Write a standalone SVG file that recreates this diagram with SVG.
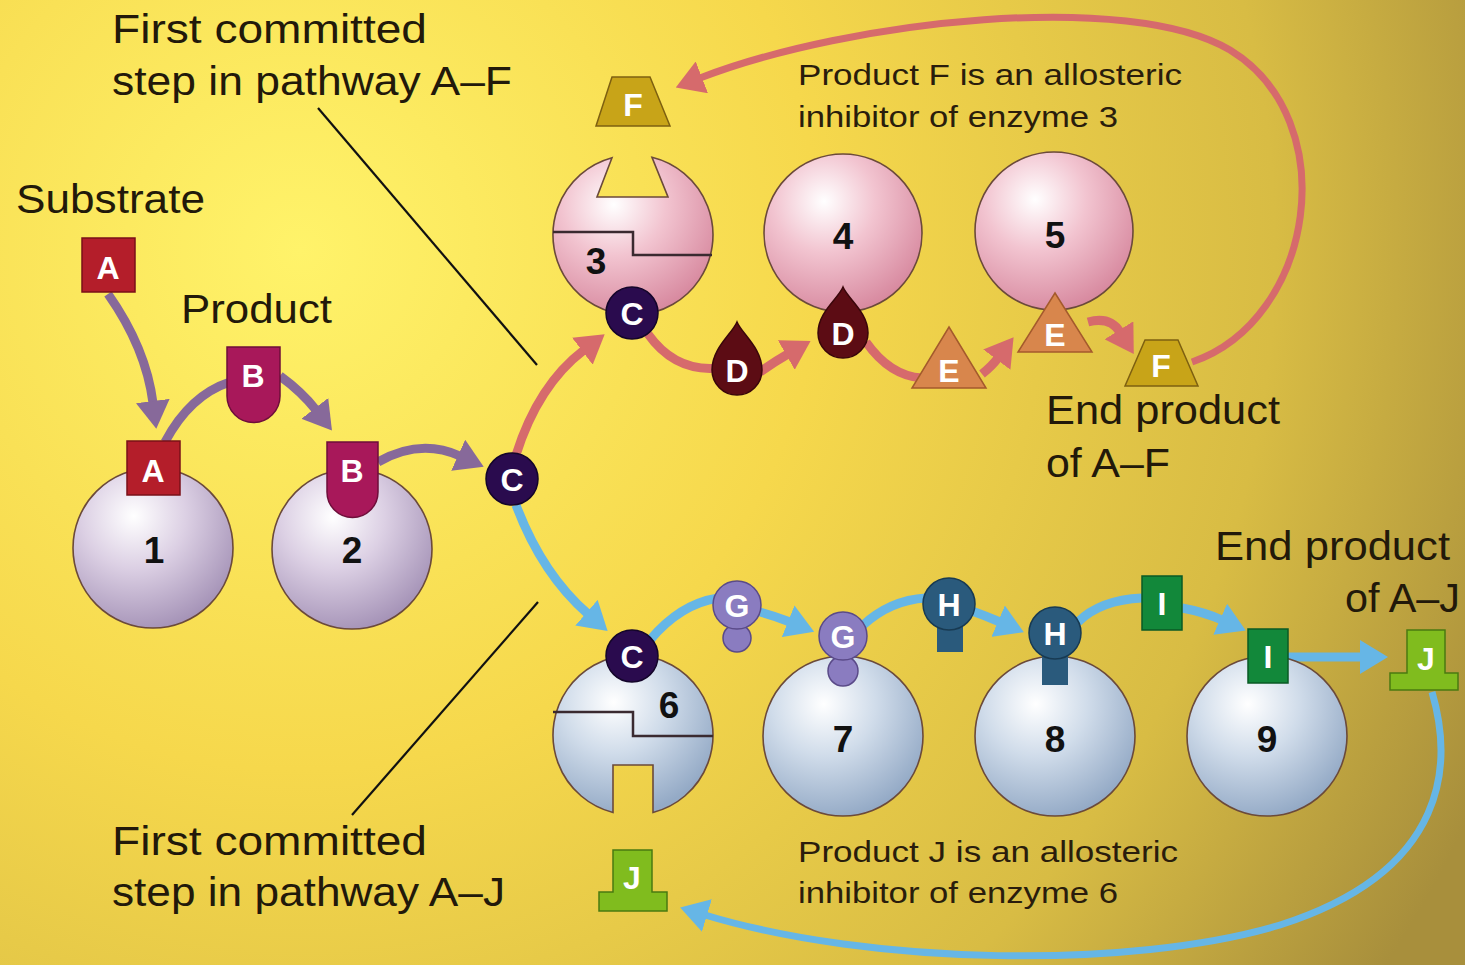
<svg xmlns="http://www.w3.org/2000/svg" width="1465" height="965" viewBox="0 0 1465 965">
  <defs>
    <radialGradient id="bg" gradientUnits="userSpaceOnUse" cx="300" cy="250" r="1300">
      <stop offset="0" stop-color="#fff36a"/>
      <stop offset="0.4" stop-color="#f6d84c"/>
      <stop offset="0.75" stop-color="#d8bc44"/>
      <stop offset="1" stop-color="#a88f3c"/>
    </radialGradient>
    <radialGradient id="lilac" cx="0.38" cy="0.3" r="0.72">
      <stop offset="0" stop-color="#ffffff"/>
      <stop offset="0.45" stop-color="#dcd0e4"/>
      <stop offset="1" stop-color="#a694b8"/>
    </radialGradient>
    <radialGradient id="pink" cx="0.38" cy="0.3" r="0.72">
      <stop offset="0" stop-color="#ffffff"/>
      <stop offset="0.45" stop-color="#f2c4d0"/>
      <stop offset="1" stop-color="#d88aa0"/>
    </radialGradient>
    <radialGradient id="ice" cx="0.38" cy="0.3" r="0.72">
      <stop offset="0" stop-color="#ffffff"/>
      <stop offset="0.45" stop-color="#d0dcea"/>
      <stop offset="1" stop-color="#94aac6"/>
    </radialGradient>
    <marker id="hPurple" viewBox="0 0 28 34" refX="2" refY="17" markerWidth="28" markerHeight="34" markerUnits="userSpaceOnUse" orient="auto">
      <path d="M0,0 L28,17 L0,34 z" fill="#87699a"/>
    </marker>
    <marker id="hSalmon" viewBox="0 0 28 34" refX="2" refY="17" markerWidth="28" markerHeight="34" markerUnits="userSpaceOnUse" orient="auto">
      <path d="M0,0 L28,17 L0,34 z" fill="#d66a6c"/>
    </marker>
    <marker id="hBlue" viewBox="0 0 28 34" refX="2" refY="17" markerWidth="28" markerHeight="34" markerUnits="userSpaceOnUse" orient="auto">
      <path d="M0,0 L28,17 L0,34 z" fill="#66b6e6"/>
    </marker>
  </defs>
  <style>
    .lbl { font-family: "Liberation Sans", Arial, sans-serif; font-size: 40px; fill: #22190a; }
    .note { font-family: "Liberation Sans", Arial, sans-serif; font-size: 29px; fill: #2a1d0c; }
    .num { font-family: "Liberation Sans", Arial, sans-serif; font-size: 37px; font-weight: bold; fill: #111; text-anchor: middle; }
    .mol { font-family: "Liberation Sans", Arial, sans-serif; font-size: 32px; font-weight: bold; fill: #fff; text-anchor: middle; }
    .enz { stroke: #6b4a3a; stroke-width: 1.6; }
    .cut { fill: none; stroke: #3a2a30; stroke-width: 2.5; }
    .pu { fill: none; stroke: #87699a; stroke-width: 9; }
    .sa { fill: none; stroke: #d66a6c; stroke-width: 9; }
    .bl { fill: none; stroke: #66b6e6; stroke-width: 9; }
    .fb { stroke-width: 7; }
    .ptr { stroke: #111; stroke-width: 2.2; fill: none; }
  </style>

  <rect width="1465" height="965" fill="url(#bg)"/>

  <!-- labels -->
  <g id="labels">
    <text class="lbl" x="112" y="43" textLength="315" lengthAdjust="spacingAndGlyphs">First committed</text>
    <text class="lbl" x="112" y="95" textLength="400" lengthAdjust="spacingAndGlyphs">step in pathway A–F</text>
    <text class="lbl" x="16" y="213" textLength="189" lengthAdjust="spacingAndGlyphs">Substrate</text>
    <text class="lbl" x="181" y="323" textLength="151" lengthAdjust="spacingAndGlyphs">Product</text>
    <text class="note" x="798" y="85" textLength="384" lengthAdjust="spacingAndGlyphs">Product F is an allosteric</text>
    <text class="note" x="798" y="127" textLength="320" lengthAdjust="spacingAndGlyphs">inhibitor of enzyme 3</text>
    <text class="lbl" x="1046" y="424" textLength="234" lengthAdjust="spacingAndGlyphs">End product</text>
    <text class="lbl" x="1046" y="477" textLength="124" lengthAdjust="spacingAndGlyphs">of A–F</text>
    <text class="lbl" x="1215" y="560" textLength="235" lengthAdjust="spacingAndGlyphs">End product</text>
    <text class="lbl" x="1345" y="612" textLength="115" lengthAdjust="spacingAndGlyphs">of A–J</text>
    <text class="lbl" x="112" y="855" textLength="315" lengthAdjust="spacingAndGlyphs">First committed</text>
    <text class="lbl" x="112" y="906" textLength="393" lengthAdjust="spacingAndGlyphs">step in pathway A–J</text>
    <text class="note" x="798" y="862" textLength="380" lengthAdjust="spacingAndGlyphs">Product J is an allosteric</text>
    <text class="note" x="798" y="903" textLength="320" lengthAdjust="spacingAndGlyphs">inhibitor of enzyme 6</text>
  </g>

  <!-- connectors -->
  <g id="connectors">
    <line class="ptr" x1="318" y1="108" x2="537" y2="365"/>
    <line class="ptr" x1="352" y1="815" x2="538" y2="602"/>
    <!-- A-B-C branch -->
    <path class="pu" d="M108 294 Q146 348 153 403" marker-end="url(#hPurple)"/>
    <path class="pu" d="M165 442 Q190 395 230 382"/>
    <path class="pu" d="M280 376 Q302 392 316 410" marker-end="url(#hPurple)"/>
    <path class="pu" d="M378 462 Q420 438 460 456" marker-end="url(#hPurple)"/>
    <!-- pathway A-F -->
    <path class="sa" d="M516 455 Q538 385 584 350" marker-end="url(#hSalmon)"/>
    <path class="sa" d="M648 334 Q675 372 718 368"/>
    <path class="sa" d="M760 372 Q774 362 788 354" marker-end="url(#hSalmon)"/>
    <path class="sa" d="M866 342 Q890 376 922 378"/>
    <path class="sa" d="M982 374 Q992 366 998 358" marker-end="url(#hSalmon)"/>
    <path class="sa" d="M1088 322 Q1110 316 1120 332" marker-end="url(#hSalmon)"/>
    <path class="sa fb" d="M1192 362 C1315 320 1345 120 1230 50 C1130 -10 850 20 700 78" marker-end="url(#hSalmon)"/>
    <!-- pathway A-J -->
    <path class="bl" d="M516 505 Q542 574 588 614" marker-end="url(#hBlue)"/>
    <path class="bl" d="M650 640 Q680 604 718 598"/>
    <path class="bl" d="M760 612 Q775 616 790 622" marker-end="url(#hBlue)"/>
    <path class="bl" d="M862 626 Q890 600 926 598"/>
    <path class="bl" d="M972 611 Q986 616 1000 622" marker-end="url(#hBlue)"/>
    <path class="bl" d="M1078 622 Q1100 600 1142 598"/>
    <path class="bl" d="M1182 608 Q1204 612 1222 620" marker-end="url(#hBlue)"/>
    <path class="bl" d="M1288 657 L1362 657" marker-end="url(#hBlue)"/>
    <path class="bl fb" d="M1432 692 C1452 760 1452 870 1280 925 C1130 970 870 965 705 915" marker-end="url(#hBlue)"/>
  </g>

  <!-- enzymes -->
  <g id="enzyme1">
    <circle class="enz" cx="153" cy="548" r="80" fill="url(#lilac)"/>
    <text class="num" x="154" y="563">1</text>
  </g>
  <g id="enzyme2">
    <circle class="enz" cx="352" cy="549" r="80" fill="url(#lilac)"/>
    <text class="num" x="352" y="563">2</text>
  </g>
  <g id="enzyme3">
    <path class="enz" d="M652 157.3 A80 80 0 1 1 612 157.8 L597 197 L668 197 Z" fill="url(#pink)"/>
    <polyline class="cut" points="553,232 633,232 633,255 712,255"/>
    <text class="num" x="596" y="274">3</text>
  </g>
  <g id="enzyme4">
    <circle class="enz" cx="843" cy="233" r="79" fill="url(#pink)"/>
    <text class="num" x="843" y="249">4</text>
  </g>
  <g id="enzyme5">
    <circle class="enz" cx="1054" cy="231" r="79" fill="url(#pink)"/>
    <text class="num" x="1055" y="248">5</text>
  </g>
  <g id="enzyme6">
    <path class="enz" d="M613 812.5 A80 80 0 1 1 653 812.5 L653 765 L613 765 Z" fill="url(#ice)"/>
    <polyline class="cut" points="553,712 633,712 633,736 713,736"/>
    <text class="num" x="669" y="718">6</text>
  </g>
  <g id="enzyme7">
    <circle class="enz" cx="843" cy="736" r="80" fill="url(#ice)"/>
    <text class="num" x="843" y="752">7</text>
  </g>
  <g id="enzyme8">
    <circle class="enz" cx="1055" cy="736" r="80" fill="url(#ice)"/>
    <text class="num" x="1055" y="752">8</text>
  </g>
  <g id="enzyme9">
    <circle class="enz" cx="1267" cy="736" r="80" fill="url(#ice)"/>
    <text class="num" x="1267" y="752">9</text>
  </g>

  <!-- metabolites -->
  <g id="molA-free">
    <rect x="82" y="238" width="53" height="54" fill="#b41e2a" stroke="#7a1018" stroke-width="1.5"/>
    <text class="mol" x="108" y="279">A</text>
  </g>
  <g id="molA-bound">
    <rect x="127" y="441" width="53" height="54" fill="#b41e2a" stroke="#7a1018" stroke-width="1.5"/>
    <text class="mol" x="153" y="482">A</text>
  </g>
  <g id="molB-free">
    <path d="M227 347 L280 347 L280 396 A26.5 26.5 0 0 1 227 396 Z" fill="#a8185a" stroke="#6e0e3a" stroke-width="1.5"/>
    <text class="mol" x="253" y="387">B</text>
  </g>
  <g id="molB-bound">
    <path d="M327 442 L378 442 L378 492 A25.5 25.5 0 0 1 327 492 Z" fill="#a8185a" stroke="#6e0e3a" stroke-width="1.5"/>
    <text class="mol" x="352" y="482">B</text>
  </g>
  <g id="molC-branch">
    <circle cx="512" cy="479" r="26" fill="#2a0b4e" stroke="#14052a" stroke-width="1.5"/>
    <text class="mol" x="512" y="491">C</text>
  </g>
  <g id="molC-3">
    <circle cx="632" cy="313" r="26" fill="#2a0b4e" stroke="#14052a" stroke-width="1.5"/>
    <text class="mol" x="632" y="325">C</text>
  </g>
  <g id="molC-6">
    <circle cx="632" cy="656" r="26" fill="#2a0b4e" stroke="#14052a" stroke-width="1.5"/>
    <text class="mol" x="632" y="668">C</text>
  </g>
  <g id="molD-free">
    <path d="M737 322 C742 334 762 348 762 370 A25 25 0 1 1 712 370 C712 348 732 334 737 322 Z" fill="#5c0c14" stroke="#3a060a" stroke-width="1.5"/>
    <text class="mol" x="737" y="382">D</text>
  </g>
  <g id="molD-4">
    <path d="M843 287 C848 299 868 312 868 333 A25 25 0 1 1 818 333 C818 312 838 299 843 287 Z" fill="#5c0c14" stroke="#3a060a" stroke-width="1.5"/>
    <text class="mol" x="843" y="345">D</text>
  </g>
  <g id="molE-free">
    <polygon points="949,327 986,388 912,388" fill="#d8864c" stroke="#a45a2c" stroke-width="1.5"/>
    <text class="mol" x="949" y="382">E</text>
  </g>
  <g id="molE-5">
    <polygon points="1055,293 1092,352 1018,352" fill="#d8864c" stroke="#a45a2c" stroke-width="1.5"/>
    <text class="mol" x="1055" y="346">E</text>
  </g>
  <g id="molF-end">
    <polygon points="1145,340 1178,340 1198,386 1125,386" fill="#c8a418" stroke="#7e6010" stroke-width="1.5"/>
    <text class="mol" x="1161" y="377">F</text>
  </g>
  <g id="molF-inhibitor">
    <polygon points="612,77 650,77 670,126 596,126" fill="#c8a418" stroke="#7e6010" stroke-width="1.5"/>
    <text class="mol" x="633" y="116">F</text>
  </g>
  <g id="molG-free">
    <circle cx="737" cy="638" r="14" fill="#8a7cc0" stroke="#5a4a88" stroke-width="1.5"/>
    <circle cx="737" cy="605" r="24" fill="#8a7cc0" stroke="#5a4a88" stroke-width="1.5"/>
    <text class="mol" x="737" y="617">G</text>
  </g>
  <g id="molG-7">
    <circle cx="843" cy="671" r="15" fill="#8a7cc0" stroke="#5a4a88" stroke-width="1.5"/>
    <circle cx="843" cy="636" r="24" fill="#8a7cc0" stroke="#5a4a88" stroke-width="1.5"/>
    <text class="mol" x="843" y="648">G</text>
  </g>
  <g id="molH-free">
    <rect x="937" y="610" width="26" height="42" fill="#2a5a7c"/>
    <circle cx="949" cy="604" r="26" fill="#2a5a7c" stroke="#183a52" stroke-width="1.5"/>
    <text class="mol" x="949" y="616">H</text>
  </g>
  <g id="molH-8">
    <rect x="1042" y="640" width="26" height="45" fill="#2a5a7c"/>
    <circle cx="1055" cy="633" r="26" fill="#2a5a7c" stroke="#183a52" stroke-width="1.5"/>
    <text class="mol" x="1055" y="645">H</text>
  </g>
  <g id="molI-free">
    <rect x="1142" y="576" width="40" height="54" fill="#12883a" stroke="#0a5a24" stroke-width="1.5"/>
    <text class="mol" x="1162" y="615">I</text>
  </g>
  <g id="molI-9">
    <rect x="1248" y="629" width="40" height="54" fill="#12883a" stroke="#0a5a24" stroke-width="1.5"/>
    <text class="mol" x="1268" y="668">I</text>
  </g>
  <g id="molJ-end">
    <path d="M1407 630 L1445 630 L1445 673 L1458 673 L1458 690 L1390 690 L1390 673 L1407 673 Z" fill="#80bc1e" stroke="#4a7a10" stroke-width="1.5"/>
    <text class="mol" x="1426" y="670">J</text>
  </g>
  <g id="molJ-inhibitor">
    <path d="M613 850 L652 850 L652 892 L667 892 L667 911 L599 911 L599 892 L613 892 Z" fill="#80bc1e" stroke="#4a7a10" stroke-width="1.5"/>
    <text class="mol" x="632" y="889">J</text>
  </g>
</svg>
